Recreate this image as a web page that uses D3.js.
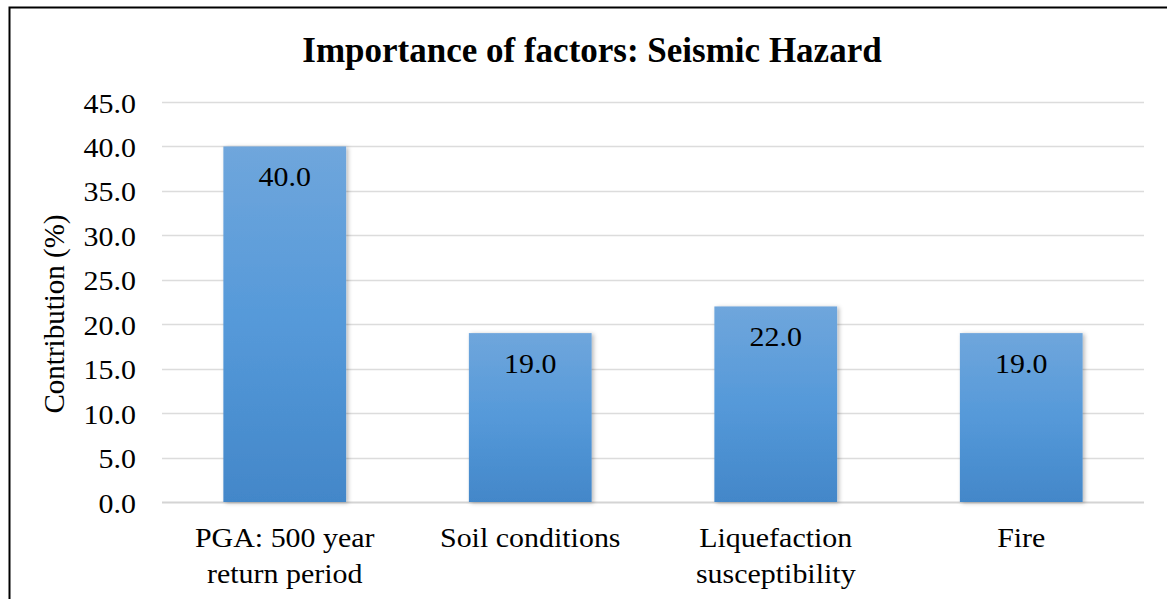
<!DOCTYPE html>
<html>
<head>
<meta charset="utf-8">
<script src="https://cdn.jsdelivr.net/npm/d3@7"></script>
<style>
  html, body { margin: 0; padding: 0; background: #fff; }
  svg { display: block; }
</style>
</head>
<body>
<svg id="chart" width="1167" height="599"></svg>
<script>
// Contribution of each factor to the seismic hazard score
const categories = [["PGA: 500 year", "return period"], ["Soil conditions"], ["Liquefaction", "susceptibility"], ["Fire"]];
const values = [40.0, 19.0, 22.0, 19.0];
const yTicks = [0, 5, 10, 15, 20, 25, 30, 35, 40, 45];
const chartTitle = "Importance of factors: Seismic Hazard";
const yLabel = "Contribution (%)";

const SERIF = "'Liberation Serif', 'Times New Roman', serif";
const FS = "28px";
const W = 1167, H = 599;
const margin = { left: 162, right: 23, top: 102, bottom: 97 };
const plotW = W - margin.left - margin.right;
const plotH = H - margin.top - margin.bottom;

const svg = d3.select("#chart");

// outer frame
svg.append("rect")
  .attr("x", 9.5).attr("y", 7.5)
  .attr("width", W + 10).attr("height", H + 10)
  .attr("fill", "none").attr("stroke", "#000").attr("stroke-width", 2);

const defs = svg.append("defs");
const grad = defs.append("linearGradient")
  .attr("id", "barFill").attr("x1", 0).attr("y1", 0).attr("x2", 0).attr("y2", 1);
grad.append("stop").attr("offset", "0%").attr("stop-color", "#6fa6dc");
grad.append("stop").attr("offset", "50%").attr("stop-color", "#5599d9");
grad.append("stop").attr("offset", "100%").attr("stop-color", "#4387c9");

const shadow = defs.append("filter").attr("id", "barShadow")
  .attr("x", "-10%").attr("y", "-10%").attr("width", "130%").attr("height", "130%");
shadow.append("feDropShadow")
  .attr("dx", 2).attr("dy", 1).attr("stdDeviation", 2.2)
  .attr("flood-color", "#000").attr("flood-opacity", 0.28);

const g = svg.append("g").attr("transform", `translate(${margin.left},${margin.top})`);

const x = d3.scaleBand()
  .domain(d3.range(values.length))
  .range([0, plotW])
  .paddingInner(0.5).paddingOuter(0.25);

const y = d3.scaleLinear().domain([0, 45]).range([plotH, 0]);

// gridlines
g.append("g")
  .selectAll("line")
  .data(yTicks)
  .join("line")
  .attr("x1", 0).attr("x2", plotW)
  .attr("y1", d => Math.round(y(d)) + 0.5).attr("y2", d => Math.round(y(d)) + 0.5)
  .attr("stroke", d => d === 0 ? "#d4d4d4" : "#dcdcdc")
  .attr("stroke-width", d => d === 0 ? 2 : 1.3);

// y axis tick labels (slightly widened glyphs)
const yAxis = d3.axisLeft(y)
  .tickValues(yTicks)
  .tickFormat(d3.format(".1f"))
  .tickSize(0).tickPadding(0);
const ya = g.append("g").call(yAxis);
ya.select(".domain").remove();
ya.selectAll("text")
  .attr("x", 0)
  .attr("transform", "translate(-26,0) scale(1.07,1)")
  .style("font-family", SERIF)
  .style("font-size", FS)
  .attr("dy", "0.36em")
  .attr("fill", "#000");

// bars
g.append("g")
  .selectAll("rect")
  .data(values)
  .join("rect")
  .attr("x", (d, i) => x(i))
  .attr("width", x.bandwidth())
  .attr("y", d => y(d))
  .attr("height", d => y(0) - y(d))
  .attr("fill", "url(#barFill)")
  .attr("filter", "url(#barShadow)");

// value labels inside bars
g.append("g")
  .selectAll("text")
  .data(values)
  .join("text")
  .attr("transform", (d, i) => `translate(${x(i) + x.bandwidth() / 2},${y(d) + 40}) scale(1.07,1)`)
  .attr("text-anchor", "middle")
  .style("font-family", SERIF)
  .style("font-size", FS)
  .attr("fill", "#000")
  .text(d => d3.format(".1f")(d));

// category labels
const catG = g.append("g");
categories.forEach((lines, i) => {
  const t = catG.append("text")
    .attr("transform", `translate(${x(i) + x.bandwidth() / 2},${plotH + 45}) scale(1.07,1)`)
    .attr("text-anchor", "middle")
    .style("font-family", SERIF)
    .style("font-size", FS)
    .attr("fill", "#000");
  lines.forEach((ln, k) => {
    t.append("tspan")
      .attr("x", 0)
      .attr("dy", k === 0 ? 0 : 36)
      .text(ln);
  });
});

// title
svg.append("text")
  .attr("x", 592).attr("y", 62)
  .attr("text-anchor", "middle")
  .style("font-family", SERIF)
  .style("font-size", "35px")
  .style("font-weight", "bold")
  .attr("fill", "#000")
  .text(chartTitle);

// y axis title
svg.append("text")
  .attr("transform", `translate(64, ${margin.top + plotH / 2 + 12}) rotate(-90)`)
  .attr("text-anchor", "middle")
  .style("font-family", SERIF)
  .style("font-size", "29px")
  .attr("fill", "#000")
  .text(yLabel);
</script>
</body>
</html>
